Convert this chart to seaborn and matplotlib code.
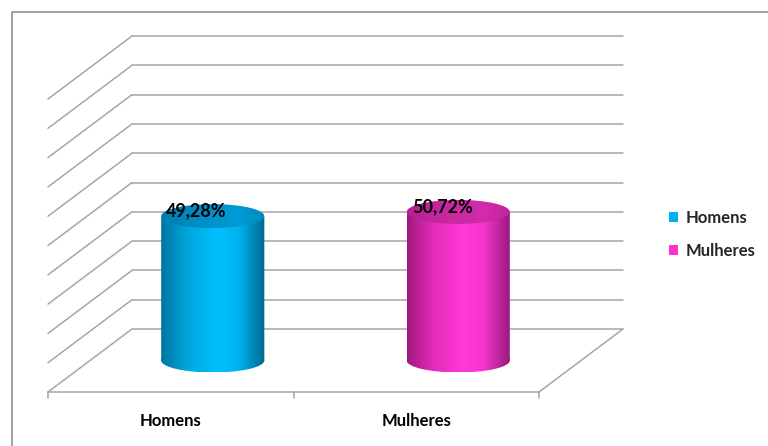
import numpy as np
import pandas as pd
import matplotlib
matplotlib.use("Agg")
import matplotlib.pyplot as plt
import matplotlib.transforms as mtransforms
from matplotlib.colors import LinearSegmentedColormap
from matplotlib.lines import Line2D
from matplotlib.patches import Ellipse, Patch
from matplotlib.path import Path
import seaborn as sns

# Distribution by sex
categories = ["Homens", "Mulheres"]
values = [49.28, 50.72]
value_labels = ["49,28%", "50,72%"]
grid_values = [0, 10, 20, 30, 40, 50, 60, 70, 80, 90, 100]

# Cylinder shading: body (left edge -> highlight -> right edge) and top cap
body_shades = {
    "Homens": ["#0074a4", "#00a6dc", "#00c0ff", "#00b2ee", "#006890"],
    "Mulheres": ["#a0187f", "#e22cb8", "#ff3ad8", "#f234cc", "#961878"],
}
cap_shades = {
    "Homens": ["#007db2", "#008fc8", "#009ad6", "#0088be"],
    "Mulheres": ["#b51f90", "#c928a2", "#d22cab", "#c02498"],
}
legend_colors = {"Homens": "#00b0f0", "Mulheres": "#ff33cc"}

sns.set_style("white")
plt.rcParams["font.family"] = ["Lato", "DejaVu Sans"]

W, H, DPI = 768, 446, 100
fig = plt.figure(figsize=(W / DPI, H / DPI), dpi=DPI)
fig.patch.set_facecolor("white")

# Axes = middle depth plane of the 3D box
ax = fig.add_axes([90 / W, (H - 360.5) / H, 491 / W, 293 / H])

# depth offsets (display pixels) for back wall and front edge
depth_dx, depth_dy = 42, 31.5
back = ax.transData + mtransforms.Affine2D().translate(depth_dx, depth_dy)
front = ax.transData + mtransforms.Affine2D().translate(-depth_dx, -depth_dy)

# bars via seaborn; used as cylinder bodies
df = pd.DataFrame({"categoria": categories, "valor": values})
sns.barplot(data=df, x="categoria", y="valor", hue="categoria",
            palette=legend_colors, width=0.42, legend=False, ax=ax,
            saturation=1)
ax.set_xlim(-0.5, 1.5)
ax.set_ylim(0, 100)
ax.axis("off")

grid_color = "#a6a6a6"
grid_lw = 1.1
x0, x1 = ax.get_xlim()

# back wall gridlines and left wall diagonals
for g in grid_values:
    ax.add_line(Line2D([x0, x1], [g, g], transform=back, color=grid_color,
                       lw=grid_lw, clip_on=False, zorder=1))
    p_back = back.transform((x0, g))
    p_front = front.transform((x0, g))
    ax.add_line(Line2D([p_back[0], p_front[0]], [p_back[1], p_front[1]],
                       transform=None, color=grid_color, lw=grid_lw,
                       clip_on=False, zorder=1))

# floor: front edge and right edge
ax.add_line(Line2D([x0, x1], [0, 0], transform=front, color=grid_color,
                   lw=grid_lw, clip_on=False, zorder=1))
pb = back.transform((x1, 0))
pf = front.transform((x1, 0))
ax.add_line(Line2D([pb[0], pf[0]], [pb[1], pf[1]], transform=None,
                   color=grid_color, lw=grid_lw, clip_on=False, zorder=1))

# category separators on the front edge
for xt in np.arange(x0, x1 + 0.01, 1.0):
    a = front.transform((xt, 0))
    ax.add_line(Line2D([a[0], a[0]], [a[1], a[1] - 6], transform=None,
                       color=grid_color, lw=grid_lw, clip_on=False, zorder=1))

px_per_unit = 293 / 100.0
cap_h = 24 / px_per_unit  # ellipse height in data units
grad = np.linspace(0, 1, 256)[None, :]

bars = list(ax.patches)
for bar, cat, val, lab in zip(bars, categories, values, value_labels):
    bx, bw = bar.get_x(), bar.get_width()
    cx = bx + bw / 2
    bar.set_facecolor("none")
    bar.set_edgecolor("none")

    # body = rectangle + lower ellipse
    rect = Path([(bx, 0), (bx + bw, 0), (bx + bw, val), (bx, val), (bx, 0)],
                [Path.MOVETO, Path.LINETO, Path.LINETO, Path.LINETO, Path.CLOSEPOLY])
    ell = Ellipse((cx, 0), bw, cap_h)
    ell_path = ell.get_patch_transform().transform_path(ell.get_path())
    body_path = Path.make_compound_path(rect, ell_path)

    cmap = LinearSegmentedColormap.from_list(
        cat + "_body", list(zip([0, 0.25, 0.55, 0.75, 1.0], body_shades[cat])))
    im = ax.imshow(grad, cmap=cmap, aspect="auto", interpolation="bilinear",
                   extent=[bx, bx + bw, -cap_h / 2, val], zorder=3, origin="lower")
    im.set_clip_box(fig.bbox)
    im.set_clip_path(body_path, ax.transData)

    # top cap
    cap = Ellipse((cx, val), bw, cap_h)
    cap_path = cap.get_patch_transform().transform_path(cap.get_path())
    cmap_c = LinearSegmentedColormap.from_list(
        cat + "_cap", list(zip([0, 0.4, 0.75, 1.0], cap_shades[cat])))
    imc = ax.imshow(grad, cmap=cmap_c, aspect="auto", interpolation="bilinear",
                    extent=[bx, bx + bw, val - cap_h / 2, val + cap_h / 2],
                    zorder=4, origin="lower")
    imc.set_clip_box(fig.bbox)
    imc.set_clip_path(cap_path, ax.transData)

    # value label
    lab_tr = ax.transData + mtransforms.Affine2D().translate(-16, 5)
    ax.text(cx, val, lab, transform=lab_tr, ha="center", va="center",
            fontsize=13, fontweight="bold", color="black", zorder=6,
            clip_on=False)

    # category label under the front edge
    cat_tr = front + mtransforms.Affine2D().translate(0, -29)
    ax.text(cx, 0, cat, transform=cat_tr, ha="center", va="center",
            fontsize=12, fontweight="bold", color="black", clip_on=False)

ax.set_xlim(-0.5, 1.5)
ax.set_ylim(0, 100)

# legend
handles = [Patch(facecolor=legend_colors[c], edgecolor="none", label=c)
           for c in categories]
leg = fig.legend(handles=handles, loc="upper left",
                 bbox_to_anchor=(654 / W, 1 - 195 / H), frameon=False,
                 handlelength=0.55, handleheight=0.55, handletextpad=0.45,
                 labelspacing=1.0, prop={"weight": "bold", "size": 12})

# chart border (left and top visible)
bl = 12 / W
bt = 1 - 12 / H
fig.add_artist(Line2D([bl, bl, 1.0], [0.0, bt, bt], transform=fig.transFigure,
                      color="#888888", lw=1.1))

fig.savefig("out.png", dpi=DPI, facecolor="white")
